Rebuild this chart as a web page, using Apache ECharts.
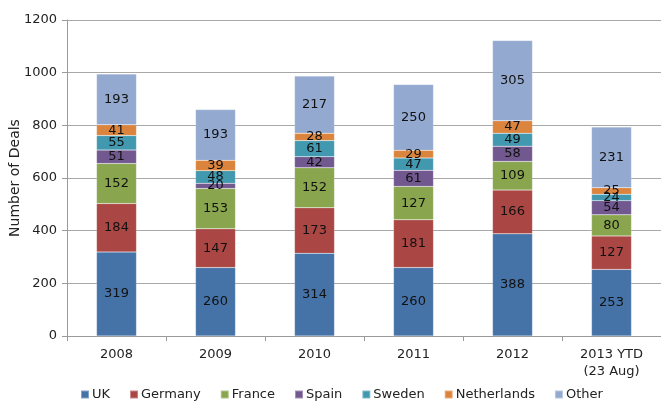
<!DOCTYPE html>
<html><head><meta charset="utf-8">
<script src="https://cdn.jsdelivr.net/npm/echarts@6/dist/echarts.min.js"></script>
<style>html,body{margin:0;padding:0;background:#fff}#c{width:661px;height:404px}</style>
</head><body><div id="c"></div>
<script>
const categories = ['2008','2009','2010','2011','2012','2013 YTD\n(23 Aug)'];
const seriesNames = ['UK','Germany','France','Spain','Sweden','Netherlands','Other'];
const uk = [319,260,314,260,388,253];
const germany = [184,147,173,181,166,127];
const france = [152,153,152,127,109,80];
const spain = [51,20,42,61,58,54];
const sweden = [55,48,61,47,49,24];
const netherlands = [41,39,28,29,47,25];
const other = [193,193,217,250,305,231];
const yTicks = [0,200,400,600,800,1000,1200];

const values = [uk,germany,france,spain,sweden,netherlands,other];
const colors = ['#4572A7','#AA4643','#89A54E','#71588F','#4198AF','#DB843D','#93A9CF'];
const font = '"DejaVu Sans", sans-serif';

const chart = echarts.init(document.getElementById('c'));
chart.setOption({
  animation:false,
  textStyle:{fontFamily:font},
  grid:{left:67,right:0,top:20,bottom:68,containLabel:false,outerBoundsMode:'none'},
  legend:{top:383,left:75,itemWidth:8,itemHeight:8,itemGap:19,icon:'rect',
    textStyle:{fontFamily:font,fontSize:13,color:'#222',padding:[0,0,0,-2]},
    data:seriesNames},
  xAxis:{type:'category',data:categories,
    axisLine:{lineStyle:{color:'#9a9a9a'}},
    axisTick:{show:true,alignWithLabel:false,length:5,lineStyle:{color:'#9a9a9a'}},
    axisLabel:{fontFamily:font,fontSize:13,color:'#222',margin:10,lineHeight:17}},
  yAxis:{type:'value',min:yTicks[0],max:yTicks[yTicks.length-1],interval:200,
    name:'Number of Deals',nameLocation:'middle',nameGap:45,nameRotate:90,nameMoveOverlap:false,
    nameTextStyle:{fontFamily:font,fontSize:14,color:'#222'},
    axisLine:{show:true,lineStyle:{color:'#9a9a9a'}},
    axisTick:{show:true,length:5,lineStyle:{color:'#9a9a9a'}},
    axisLabel:{fontFamily:font,fontSize:13,color:'#222',margin:10,formatter:v=>String(v)},
    splitLine:{lineStyle:{color:'#a8a8a8'}}},
  series: seriesNames.map((n,i)=>({
    name:n,type:'bar',stack:'all',barWidth:40,data:values[i],
    itemStyle:{color:colors[i],borderColor:'rgba(255,255,255,0.35)',borderWidth:0.5},
    label:{show:true,position:'inside',color:'#111',fontFamily:font,fontSize:13}
  }))
});
</script></body></html>
